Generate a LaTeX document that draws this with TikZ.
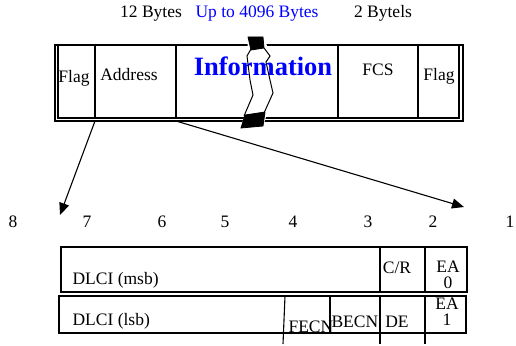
\documentclass[tikz,border=0pt]{standalone}
\usepackage{fontspec}
\setmainfont{Liberation Serif}
\usetikzlibrary{arrows.meta}
\begin{document}
\begin{tikzpicture}[x=1pt,y=-1pt,line width=1.1pt,
  txt/.style={font=\fontsize{17.5}{18}\selectfont,inner sep=0pt,anchor=base},
  txtl/.style={txt,anchor=base west},
  info/.style={font=\fontsize{26.5}{28}\selectfont\bfseries,text=blue,inner sep=0pt,anchor=base},
  ptr/.style={-{Triangle[length=12pt,width=10pt]},line width=1.1pt},
  brk/.style={fill=black,draw=black,line width=0.8pt},
  zig/.style={line width=1pt,line join=miter}]
\useasboundingbox (0,0) rectangle (516,345);

% --- size labels above the frame
\node[txt] (l12) at (151,18) {12 Bytes};
\node[txt,text=blue] (linfo) at (257,18) {Up to 4096 Bytes};
\node[txt] (l2) at (383,18) {2 Bytels};

% --- frame outline with its doubled left, right and bottom edges
\draw (55,45) rectangle (463,121);
\draw (58,45) -- (58,118) -- (459,118) -- (459,45);
\foreach \x/\n in {95/d1,176/d2,338/d3,418/d4}{
  \draw (\x,45) -- (\x,118);
  \coordinate (\n) at (\x,121);
}

% --- break in the information field
\fill[white] (248,36) -- (264,36) -- (270,56) -- (266,62) -- (270,80) -- (273,93) -- (263,127) -- (240,128) -- (253,95) -- (250,80) -- (247,56) -- cycle;

\node[txt] (fflag) at (74,82) {Flag};
\node[txt] (faddr) at (129,81) {Address};
\node[info] (finfo) at (263,75) {Information};
\node[txt] (ffcs) at (378,75) {FCS};
\node[txt] (fflag2) at (439,80) {Flag};

\draw[zig] (251,49) -- (247,56) -- (250,80) -- (253,95) -- (244,116);
\draw[zig] (264,48) -- (270,56) -- (266,62) -- (270,80) -- (273,93) -- (264,113);
\draw[brk] (248,37) -- (263,37) -- (264,48) -- (251,50) -- cycle;
\draw[brk] (245,115) -- (265,112) -- (263,126) -- (241,128) -- cycle;

% --- bit numbers
\foreach \x/\b in {13/8,87/7,162/6,225/5,293/4,368/3,433/2,510/1}
  \node[txt] (b\b) at (\x,227) {\b};

\coordinate (t1) at (60,215);
\coordinate (t2) at (464,207);
\draw[ptr] (d1) -- (t1);
\draw[ptr] (d2) -- (t2);

% --- address octets
\draw (61,247) rectangle (467,292);
\draw (380,247) -- (380,292);
\draw (425,247) -- (425,292);
\draw (59,296) rectangle (466,333);
\draw (285,296) -- (283,344);
\draw (330,296) -- (330,333);
\draw (380,296) -- (380,344);
\draw (425,296) -- (425,344);

\node[txtl] (msb) at (72,284) {DLCI (msb)};
\node[txt] (cr) at (397,273) {C/R};
\node[txt] (ea0) at (448,272) {EA};
\node[txt] (z0) at (448,288) {0};
\node[txtl] (lsb) at (72,325) {DLCI (lsb)};
\node[txtl] (fecn) at (288,332) {FECN};
\node[txtl] (becn) at (331,327) {BECN};
\node[txt] (de) at (397,327) {DE};
\node[txt] (ea1) at (447,309) {EA};
\node[txt] (o1) at (447,325) {1};
\end{tikzpicture}
\end{document}
